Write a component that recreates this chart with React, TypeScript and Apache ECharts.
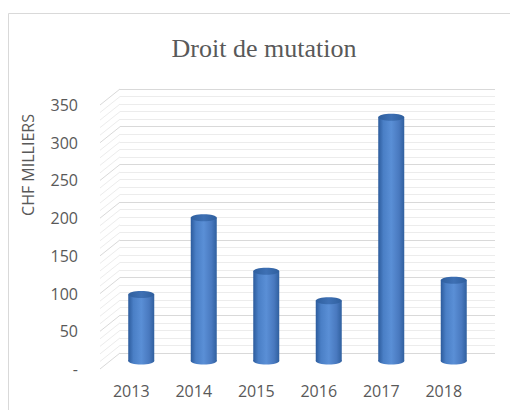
import React, { useEffect, useRef } from "react";
import * as echarts from "echarts";

const titleText = "Droit de mutation";
const yAxisName = "CHF MILLIERS";
const years = ["2013", "2014", "2015", "2016", "2017", "2018"];
const values = [88, 190, 119, 80, 323, 107];
const yMin = 0;
const yMax = 350;
const yMajor = 50;
const yMinor = 10;

export default function App() {
  const ref = useRef<HTMLDivElement>(null);
  useEffect(() => {
    document.body.style.margin = "0";
    if (!ref.current) return;
    const chart = echarts.init(ref.current, null, { renderer: "svg" });

    const depthX = -20;
    const depthY = 16;
    const wallTicks: number[][] = [];
    for (let v = yMin; v <= yMax; v += yMinor) wallTicks.push([0, v]);

    const bodyGrad = new echarts.graphic.LinearGradient(0, 0, 1, 0, [
      { offset: 0, color: "#2c5b9c" },
      { offset: 0.2, color: "#4a7fc6" },
      { offset: 0.5, color: "#5a8fd6" },
      { offset: 0.8, color: "#4979bf" },
      { offset: 1, color: "#30609f" },
    ]);
    const topGrad = new echarts.graphic.LinearGradient(0, 0, 1, 0, [
      { offset: 0, color: "#2f5f9e" },
      { offset: 0.5, color: "#3e70b4" },
      { offset: 1, color: "#2f5f9e" },
    ]);

    chart.setOption({
      animation: false,
      graphic: [
        {
          type: "rect",
          shape: { x: 8.5, y: 13.5, width: 600, height: 500 },
          style: { fill: "none", stroke: "#d9d9d9", lineWidth: 1 },
          silent: true,
          z: -10,
        },
        {
          type: "text",
          x: 264,
          y: 48.5,
          style: {
            text: titleText,
            textAlign: "center",
            textVerticalAlign: "middle",
            fontFamily: "Liberation Serif",
            fontSize: 26,
            fill: "#595959",
          },
        },
        {
          type: "text",
          x: 28,
          y: 165,
          rotation: Math.PI / 2,
          style: {
            text: yAxisName,
            textAlign: "center",
            textVerticalAlign: "middle",
            fontFamily: "Open Sans",
            fontSize: 16,
            fill: "#595959",
          },
        },
      ],
      grid: [
        { left: 120, width: 375, top: 89, height: 264 },
        { left: 100, width: 375, top: 105, height: 264 },
      ],
      xAxis: [
        {
          type: "category",
          gridIndex: 0,
          data: years,
          axisLine: { show: false },
          axisTick: { show: false },
          axisLabel: { show: false },
        },
        {
          type: "category",
          gridIndex: 1,
          data: years,
          axisLine: { show: false },
          axisTick: { show: false },
          axisLabel: {
            margin: 14,
            fontFamily: "Open Sans",
            fontSize: 16,
            color: "#595959",
          },
        },
      ],
      yAxis: [
        {
          type: "value",
          gridIndex: 0,
          min: yMin,
          max: yMax,
          interval: yMajor,
          axisLine: { show: false },
          axisTick: { show: false },
          axisLabel: { show: false },
          splitLine: { show: true, lineStyle: { color: "#d9d9d9", width: 1 } },
          minorTick: { show: false, splitNumber: yMajor / yMinor },
          minorSplitLine: { show: true, lineStyle: { color: "#ececec", width: 1 } },
        },
        {
          type: "value",
          gridIndex: 1,
          min: yMin,
          max: yMax,
          interval: yMajor,
          axisLine: { show: false },
          axisTick: { show: false },
          splitLine: { show: false },
          axisLabel: {
            margin: 22,
            fontFamily: "Open Sans",
            fontSize: 16,
            color: "#595959",
            formatter: (v: number) => (v === 0 ? "-" : String(v)),
          },
        },
      ],
      series: [
        {
          type: "custom",
          xAxisIndex: 0,
          yAxisIndex: 0,
          clip: false,
          silent: true,
          data: wallTicks,
          z: 1,
          renderItem: (params: any, api: any) => {
            const cs = params.coordSys;
            const v = api.value(1);
            const p = api.coord([0, v]);
            const bx = cs.x;
            const by = p[1];
            const major = v % yMajor === 0;
            return {
              type: "line",
              shape: { x1: bx + depthX, y1: by + depthY, x2: bx, y2: by },
              style: { stroke: major ? "#d9d9d9" : "#ececec", lineWidth: 1 },
            };
          },
        },
        {
          type: "custom",
          xAxisIndex: 0,
          yAxisIndex: 0,
          clip: false,
          data: values.map((v, i) => [i, v]),
          z: 5,
          renderItem: (params: any, api: any) => {
            const i = api.value(0);
            const v = api.value(1);
            const top = api.coord([i, v]);
            const base = api.coord([i, 0]);
            const cx = top[0] + depthX / 2;
            const ty = top[1] + depthY / 2;
            const byy = base[1] + depthY / 2;
            const rx = 13;
            const ry = 3.5;
            return {
              type: "group",
              children: [
                {
                  type: "ellipse",
                  shape: { cx, cy: byy, rx, ry },
                  style: { fill: bodyGrad },
                },
                {
                  type: "rect",
                  shape: { x: cx - rx, y: ty, width: rx * 2, height: byy - ty },
                  style: { fill: bodyGrad },
                },
                {
                  type: "ellipse",
                  shape: { cx, cy: ty, rx, ry },
                  style: { fill: topGrad },
                },
              ],
            };
          },
        },
      ],
    });
    return () => chart.dispose();
  }, []);
  return <div ref={ref} style={{ width: 510, height: 410 }} />;
}
